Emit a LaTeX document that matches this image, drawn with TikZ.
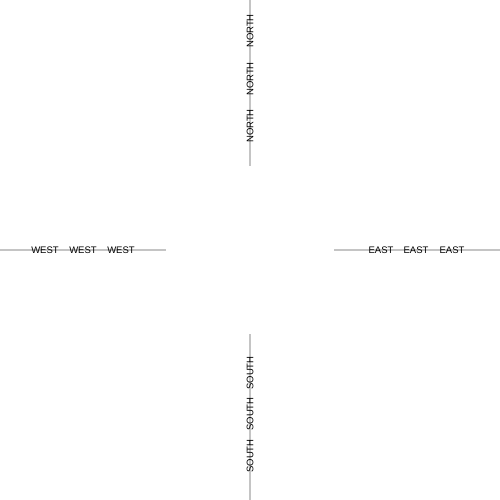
\documentclass[tikz,border=0pt]{standalone}
\usepackage{fontspec}
\setmainfont{Liberation Sans}
\definecolor{axisgray}{RGB}{196,196,196}
\begin{document}
\begin{tikzpicture}[x=1pt,y=-1pt,
  axisline/.style={draw=axisgray,line width=1.4pt},
  lbl/.style={inner sep=0pt,font=\fontsize{9.5}{11}\selectfont,text=black},
  vlbl/.style={lbl,rotate=90}]
\useasboundingbox (0,0) rectangle (500,500);
% line end points
\coordinate (n0) at (250,0);   \coordinate (n1) at (250,166);
\coordinate (w0) at (0,250);   \coordinate (w1) at (166,250);
\coordinate (e0) at (334,250); \coordinate (e1) at (500,250);
\coordinate (s0) at (250,334); \coordinate (s1) at (250,500);
\draw[axisline] (n0) -- (n1);
\draw[axisline] (w0) -- (w1);
\draw[axisline] (e0) -- (e1);
\draw[axisline] (s0) -- (s1);
% labels
\node[vlbl] (na) at (250,31) {NORTH};
\node[vlbl] (nb) at (250,79) {NORTH};
\node[vlbl] (nc) at (250,126) {NORTH};
\node[lbl] (wa) at (45,250) {WEST};
\node[lbl] (wb) at (83,250) {WEST};
\node[lbl] (wc) at (121,250) {WEST};
\node[lbl] (ea) at (381,250) {EAST};
\node[lbl] (eb) at (416,250) {EAST};
\node[lbl] (ec) at (452,250) {EAST};
\node[vlbl] (sa) at (250,373) {SOUTH};
\node[vlbl] (sb) at (250,414) {SOUTH};
\node[vlbl] (sc) at (250,456) {SOUTH};
\end{tikzpicture}
\end{document}
